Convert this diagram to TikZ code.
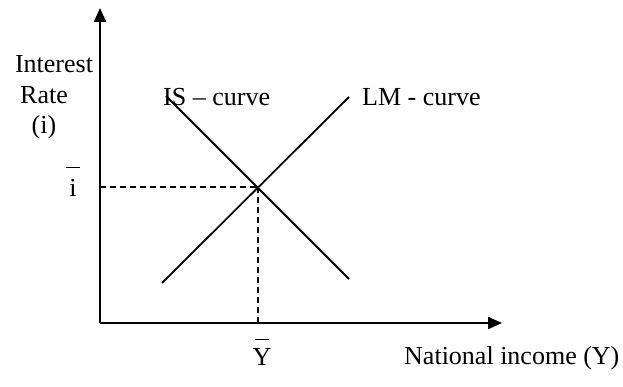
\documentclass[tikz,border=0pt]{standalone}
\usepackage{fontspec}
\setmainfont{Liberation Serif}
\usetikzlibrary{arrows.meta}
\begin{document}
\begin{tikzpicture}[x=1pt,y=-1pt,
  lbl/.style={font=\fontsize{26}{30}\selectfont, inner sep=0pt},
  axis/.style={line width=2.2pt,-{Triangle[length=14pt,width=12pt]}},
  curve/.style={line width=1.8pt},
  guide/.style={line width=1.4pt,dash pattern=on 6pt off 4pt}]
\useasboundingbox (0,0) rectangle (623,387);
\coordinate (O) at (100,323);
\coordinate (ytip) at (100,8);
\coordinate (xtip) at (502,323);
\coordinate (E) at (258,187);
\coordinate (Ey) at (100,187);
\coordinate (Ex) at (258,323);
\coordinate (IStop) at (166,96);
\coordinate (ISbot) at (349,279);
\coordinate (LMtop) at (349,97);
\coordinate (LMbot) at (162,283);
\draw[axis] (O) -- (ytip);
\draw[axis] (O) -- (xtip);
\draw[curve] (IStop) -- (ISbot);
\draw[curve] (LMbot) -- (LMtop);
\draw[guide] (Ey) -- (E);
\draw[guide] (E) -- (Ex);
\node[lbl] (t1) at (54,64) {Interest};
\node[lbl] (t2) at (44,95) {Rate};
\node[lbl] (t3) at (44,127) {(i)};
\node[lbl] (ibar) at (73,182) {\shortstack{\rule{14pt}{1.2pt}\\[8pt]i}};
\node[lbl] (ybar) at (262,352) {\shortstack{\rule{14pt}{1.2pt}\\[5pt]Y}};
\node[lbl,anchor=west] (is) at (163,97) {IS -- curve};
\node[lbl,anchor=west] (lm) at (362,97) {LM - curve};
\node[lbl,anchor=west] (ni) at (404,358) {National income (Y)};
\end{tikzpicture}
\end{document}
